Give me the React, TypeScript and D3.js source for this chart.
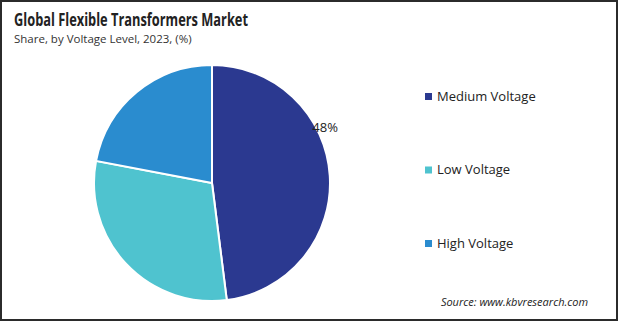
import { useEffect, useRef } from 'react';
import * as d3 from 'd3';

const categories = ['Medium Voltage', 'Low Voltage', 'High Voltage'];
const shares = [48, 30, 22];
const colors = ['#2b3990', '#4fc3cf', '#2a8ccf'];
const shownLabels = ['48%', '', ''];

export default function App() {
  const svgRef = useRef<SVGSVGElement>(null);

  useEffect(() => {
    document.body.style.margin = '0';
    if (!svgRef.current) return;
    const W = 619;
    const H = 322;
    const svg = d3.select(svgRef.current);
    svg.selectAll('*').remove();
    svg.attr('width', W).attr('height', H).attr('viewBox', `0 0 ${W} ${H}`);

    const font = "'Open Sans', 'Noto Sans', sans-serif";

    svg.append('rect').attr('x', 1).attr('y', 1).attr('width', W - 3).attr('height', H - 3)
      .attr('fill', '#fff').attr('stroke', '#2b2b2b').attr('stroke-width', 2);

    svg.append('text').attr('x', 14).attr('y', 26)
      .attr('font-family', "'Liberation Sans Narrow', 'Open Sans', sans-serif")
      .attr('font-size', 17.5).attr('font-weight', 'bold').attr('fill', '#222')
      .attr('textLength', 234).attr('lengthAdjust', 'spacingAndGlyphs')
      .text('Global Flexible Transformers Market');
    svg.append('text').attr('x', 14).attr('y', 43).attr('font-family', font)
      .attr('font-size', 11.5).attr('fill', '#333')
      .text('Share, by Voltage Level, 2023, (%)');

    const cx = 212;
    const cy = 183;
    const r = 118;
    const pie = d3.pie<number>().sort(null).value((d) => d);
    const arcs = pie(shares);
    const arc = d3.arc<d3.PieArcDatum<number>>().innerRadius(0).outerRadius(r);

    const g = svg.append('g').attr('transform', `translate(${cx},${cy})`);
    g.selectAll('path').data(arcs).join('path')
      .attr('d', arc)
      .attr('fill', (_, i) => colors[i])
      .attr('stroke', '#fff').attr('stroke-width', 2);

    g.selectAll('text.lbl').data(arcs).join('text')
      .attr('class', 'lbl')
      .attr('transform', (d) => {
        const a = d.startAngle + 0.37 * (d.endAngle - d.startAngle);
        const [x, y] = d3.pointRadial(a, r + 8);
        return `translate(${x},${y})`;
      })
      .attr('text-anchor', 'middle').attr('dy', '0.35em')
      .attr('font-family', font).attr('font-size', 13).attr('fill', '#222')
      .text((_, i) => shownLabels[i]);

    const ly = d3.scalePoint<string>().domain(categories).range([96, 243]);
    const leg = svg.append('g');
    categories.forEach((c, i) => {
      const y = ly(c) ?? 0;
      leg.append('rect').attr('x', 425).attr('y', y - 3).attr('width', 7).attr('height', 7)
        .attr('fill', colors[i]);
      leg.append('text').attr('x', 437).attr('y', y).attr('dy', '0.35em')
        .attr('font-family', font).attr('font-size', 13).attr('fill', '#222').text(c);
    });

    svg.append('text').attr('x', 588).attr('y', 306).attr('text-anchor', 'end')
      .attr('font-family', font).attr('font-size', 11).attr('font-style', 'italic').attr('fill', '#222')
      .text('Source: www.kbvresearch.com');
  }, []);

  return <svg ref={svgRef} style={{ display: 'block' }} />;
}
